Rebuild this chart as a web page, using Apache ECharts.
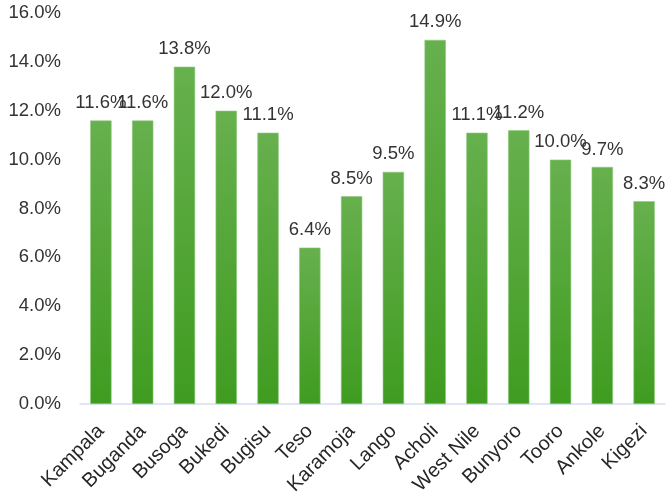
<!DOCTYPE html>
<html>
<head>
<meta charset="utf-8">
<script src="https://cdn.jsdelivr.net/npm/echarts@6/dist/echarts.min.js"></script>
<style>
  html, body { margin: 0; padding: 0; background: #fff; }
  #chart { width: 671px; height: 504px; }
</style>
</head>
<body>
<div id="chart"></div>
<script>
  // regions and their rates (%)
  const regions = ['Kampala', 'Buganda', 'Busoga', 'Bukedi', 'Bugisu', 'Teso', 'Karamoja', 'Lango',
    'Acholi', 'West Nile', 'Bunyoro', 'Tooro', 'Ankole', 'Kigezi']
  const rates = [11.6, 11.6, 13.8, 12.0, 11.1, 6.4, 8.5, 9.5, 14.9, 11.1, 11.2, 10.0, 9.7, 8.3]

  const chart = echarts.init(document.getElementById('chart'))
  const font = 'Liberation Sans, Arial, sans-serif'

  chart.setOption({
    animation: false,
    grid: { left: 80, right: 6, top: 13, bottom: 100 },
    xAxis: {
      type: 'category',
      data: regions,
      axisLine: { show: true, lineStyle: { color: '#d3e0f0', width: 1.5 } },
      axisTick: { show: false },
      axisLabel: {
        interval: 0,
        rotate: 45,
        margin: 24,
        color: '#262626',
        fontSize: 20,
        fontFamily: font,
      },
    },
    yAxis: {
      type: 'value',
      min: 0,
      max: 16,
      interval: 2,
      splitLine: { show: false },
      axisLine: { show: false },
      axisTick: { show: false },
      axisLabel: {
        margin: 19,
        color: '#333',
        fontSize: 18.5,
        fontFamily: font,
        formatter: (v) => v.toFixed(1) + '%',
      },
    },
    series: [
      {
        type: 'bar',
        data: rates,
        barWidth: '51%',
        itemStyle: {
          color: new echarts.graphic.LinearGradient(0, 0, 0, 1, [
            { offset: 0, color: '#67b04e' },
            { offset: 1, color: '#3f9c20' },
          ]),
          borderColor: '#8cc97a',
          borderWidth: 0.6,
        },
        label: {
          show: true,
          position: 'top',
          distance: 8,
          color: '#333',
          fontSize: 18.5,
          fontFamily: font,
          formatter: (p) => p.value.toFixed(1) + '%',
        },
      },
    ],
  })
</script>
</body>
</html>
